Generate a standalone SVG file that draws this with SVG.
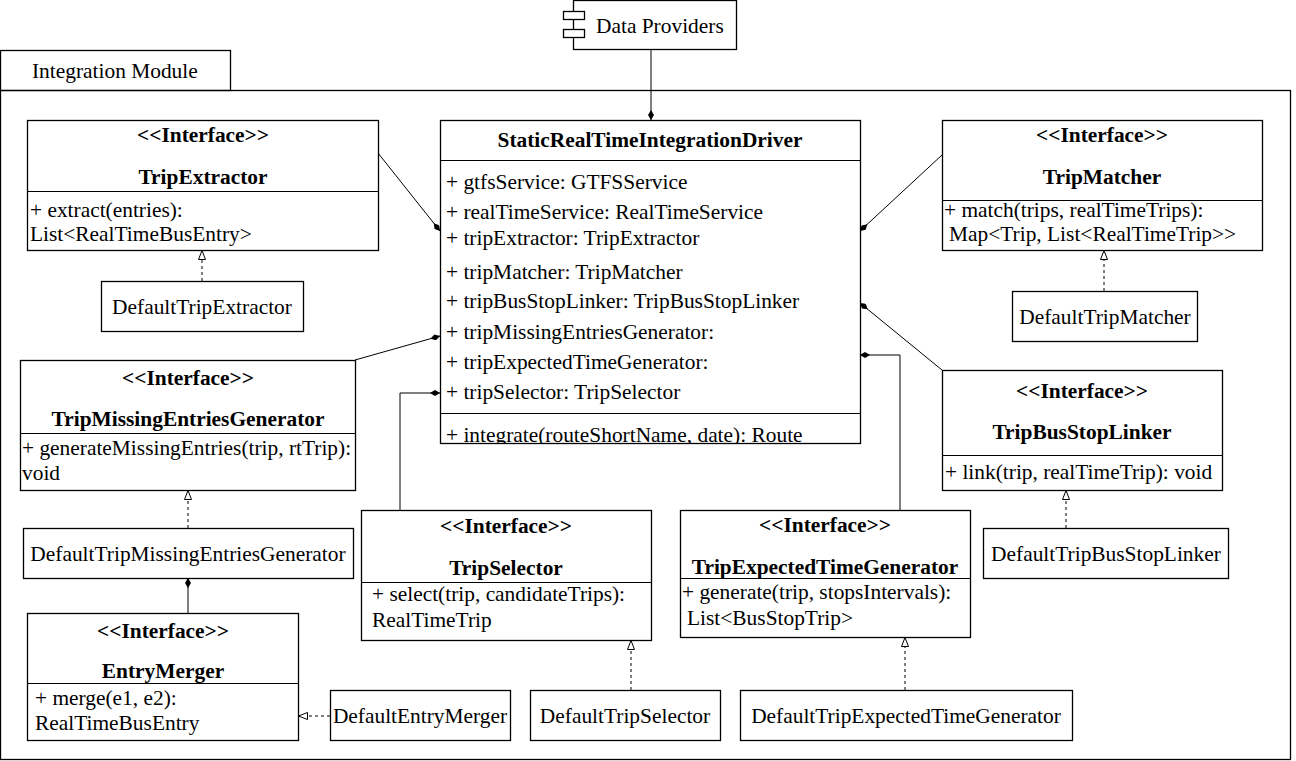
<svg xmlns="http://www.w3.org/2000/svg" width="1296" height="761" viewBox="0 0 1296 761">
<defs>
<style>
text{font-family:"Liberation Serif","Times New Roman",serif;font-size:21.4px;fill:#000}
.b{font-weight:bold}
.c{text-anchor:middle}
.box{fill:#fff;stroke:#000;stroke-width:1.3}
.sep{stroke:#000;stroke-width:1.2}
.ln{fill:none;stroke:#000;stroke-width:1}
.dash{fill:none;stroke:#000;stroke-width:1;stroke-dasharray:3,3}
</style>
<marker id="dia" viewBox="0 0 10 6" refX="10" refY="3" markerWidth="10" markerHeight="6" markerUnits="userSpaceOnUse" orient="auto">
<path d="M0,3 L5,0 L10,3 L5,6 Z" fill="#000"/>
</marker>
<marker id="tri" viewBox="0 0 10 8" refX="10" refY="4" markerWidth="10" markerHeight="8" markerUnits="userSpaceOnUse" orient="auto">
<path d="M0.5,0.5 L9.5,4 L0.5,7.5 Z" fill="#fff" stroke="#000" stroke-width="1"/>
</marker>
<clipPath id="drvclip"><rect x="440" y="120" width="420" height="323.5"/></clipPath>
</defs>

<g id="frame">
<rect class="box" x="0.5" y="50.5" width="230" height="40"/>
<rect x="0.5" y="90.5" width="1290" height="669" fill="none" stroke="#000" stroke-width="1.3"/>
<text x="32" y="78">Integration Module</text>
</g>

<g id="connectors">
<line class="ln" x1="651" y1="50" x2="651" y2="120" marker-end="url(#dia)"/>
<line class="ln" x1="378" y1="153" x2="440" y2="231" marker-end="url(#dia)"/>
<line class="ln" x1="942" y1="155" x2="860" y2="231" marker-end="url(#dia)"/>
<line class="ln" x1="355" y1="360" x2="440" y2="336" marker-end="url(#dia)"/>
<polyline class="ln" points="400,510 400,393 440,393" marker-end="url(#dia)"/>
<polyline class="ln" points="900,510 900,355 860,355" marker-end="url(#dia)"/>
<line class="ln" x1="942" y1="370" x2="860" y2="303" marker-end="url(#dia)"/>
<line class="ln" x1="188" y1="613" x2="188" y2="578" marker-end="url(#dia)"/>
<line class="dash" x1="202" y1="281" x2="202" y2="250" marker-end="url(#tri)"/>
<line class="dash" x1="1104" y1="291" x2="1104" y2="250" marker-end="url(#tri)"/>
<line class="dash" x1="188" y1="528" x2="188" y2="490" marker-end="url(#tri)"/>
<line class="dash" x1="330" y1="716" x2="298" y2="716" marker-end="url(#tri)"/>
<line class="dash" x1="631" y1="690" x2="631" y2="640" marker-end="url(#tri)"/>
<line class="dash" x1="905" y1="690" x2="905" y2="637" marker-end="url(#tri)"/>
<line class="dash" x1="1066" y1="528" x2="1066" y2="490" marker-end="url(#tri)"/>
</g>

<g id="dataProviders">
<rect class="box" x="573.5" y="0.5" width="163" height="49"/>
<rect class="box" x="563.5" y="11.5" width="21" height="8"/>
<rect class="box" x="563.5" y="29.5" width="21" height="8"/>
<text x="596" y="33">Data Providers</text>
</g>

<g id="driver">
<rect class="box" x="440.5" y="120.5" width="420" height="323"/>
<line class="sep" x1="440" y1="160.5" x2="860" y2="160.5"/>
<line class="sep" x1="440" y1="413.5" x2="860" y2="413.5"/>
<text class="b c" x="650" y="147">StaticRealTimeIntegrationDriver</text>
<text x="446" y="189">+ gtfsService: GTFSService</text>
<text x="446" y="219">+ realTimeService: RealTimeService</text>
<text x="446" y="245">+ tripExtractor: TripExtractor</text>
<text x="446" y="279">+ tripMatcher: TripMatcher</text>
<text x="446" y="308">+ tripBusStopLinker: TripBusStopLinker</text>
<text x="446" y="339">+ tripMissingEntriesGenerator:</text>
<text x="446" y="369">+ tripExpectedTimeGenerator:</text>
<text x="446" y="399">+ tripSelector: TripSelector</text>
<text x="446" y="442" clip-path="url(#drvclip)">+ integrate(routeShortName, date): Route</text>
</g>

<g id="tripExtractor">
<rect class="box" x="27.5" y="120.5" width="351" height="130"/>
<line class="sep" x1="27" y1="191.5" x2="378" y2="191.5"/>
<text class="b c" x="203" y="142">&lt;&lt;Interface&gt;&gt;</text>
<text class="b c" x="203" y="184">TripExtractor</text>
<text x="30" y="217">+ extract(entries):</text>
<text x="30" y="241">List&lt;RealTimeBusEntry&gt;</text>
</g>

<g id="defaultTripExtractor">
<rect class="box" x="101.5" y="281.5" width="202" height="50"/>
<text class="c" x="202" y="314">DefaultTripExtractor</text>
</g>

<g id="tripMatcher">
<rect class="box" x="942.5" y="120.5" width="320" height="130"/>
<line class="sep" x1="942" y1="200.5" x2="1262" y2="200.5"/>
<text class="b c" x="1102" y="142">&lt;&lt;Interface&gt;&gt;</text>
<text class="b c" x="1102" y="184">TripMatcher</text>
<text x="944" y="217">+ match(trips, realTimeTrips):</text>
<text x="949" y="241">Map&lt;Trip, List&lt;RealTimeTrip&gt;&gt;</text>
</g>

<g id="defaultTripMatcher">
<rect class="box" x="1012.5" y="291.5" width="185" height="50"/>
<text class="c" x="1105" y="324">DefaultTripMatcher</text>
</g>

<g id="tripMissingEntriesGenerator">
<rect class="box" x="20.5" y="360.5" width="335" height="130"/>
<line class="sep" x1="20" y1="433.5" x2="355" y2="433.5"/>
<text class="b c" x="188" y="385">&lt;&lt;Interface&gt;&gt;</text>
<text class="b c" x="188" y="426">TripMissingEntriesGenerator</text>
<text x="22" y="455">+ generateMissingEntries(trip, rtTrip):</text>
<text x="22" y="480">void</text>
</g>

<g id="defaultTripMissingEntriesGenerator">
<rect class="box" x="23.5" y="528.5" width="330" height="50"/>
<text class="c" x="188" y="561">DefaultTripMissingEntriesGenerator</text>
</g>

<g id="entryMerger">
<rect class="box" x="27.5" y="613.5" width="271" height="127"/>
<line class="sep" x1="27" y1="683.5" x2="298" y2="683.5"/>
<text class="b c" x="163" y="638">&lt;&lt;Interface&gt;&gt;</text>
<text class="b c" x="163" y="678">EntryMerger</text>
<text x="35" y="705">+ merge(e1, e2):</text>
<text x="35" y="730">RealTimeBusEntry</text>
</g>

<g id="defaultEntryMerger">
<rect class="box" x="330.5" y="690.5" width="180" height="50"/>
<text class="c" x="420" y="723">DefaultEntryMerger</text>
</g>

<g id="tripSelector">
<rect class="box" x="361.5" y="510.5" width="290" height="130"/>
<line class="sep" x1="361" y1="582.5" x2="651" y2="582.5"/>
<text class="b c" x="506" y="533">&lt;&lt;Interface&gt;&gt;</text>
<text class="b c" x="506" y="575">TripSelector</text>
<text x="372" y="601">+ select(trip, candidateTrips):</text>
<text x="372" y="627">RealTimeTrip</text>
</g>

<g id="defaultTripSelector">
<rect class="box" x="530.5" y="690.5" width="190" height="50"/>
<text class="c" x="625" y="723">DefaultTripSelector</text>
</g>

<g id="tripExpectedTimeGenerator">
<rect class="box" x="680.5" y="510.5" width="290" height="127"/>
<line class="sep" x1="680" y1="578.5" x2="970" y2="578.5"/>
<text class="b c" x="825" y="532">&lt;&lt;Interface&gt;&gt;</text>
<text class="b c" x="825" y="574">TripExpectedTimeGenerator</text>
<text x="682" y="599">+ generate(trip, stopsIntervals):</text>
<text x="687" y="625">List&lt;BusStopTrip&gt;</text>
</g>

<g id="defaultTripExpectedTimeGenerator">
<rect class="box" x="740.5" y="690.5" width="332" height="50"/>
<text class="c" x="906" y="723">DefaultTripExpectedTimeGenerator</text>
</g>

<g id="tripBusStopLinker">
<rect class="box" x="942.5" y="370.5" width="280" height="120"/>
<line class="sep" x1="942" y1="455.5" x2="1222" y2="455.5"/>
<text class="b c" x="1082" y="398">&lt;&lt;Interface&gt;&gt;</text>
<text class="b c" x="1082" y="439">TripBusStopLinker</text>
<text x="945" y="479">+ link(trip, realTimeTrip): void</text>
</g>

<g id="defaultTripBusStopLinker">
<rect class="box" x="983.5" y="528.5" width="245" height="50"/>
<text class="c" x="1106" y="561">DefaultTripBusStopLinker</text>
</g>
</svg>
